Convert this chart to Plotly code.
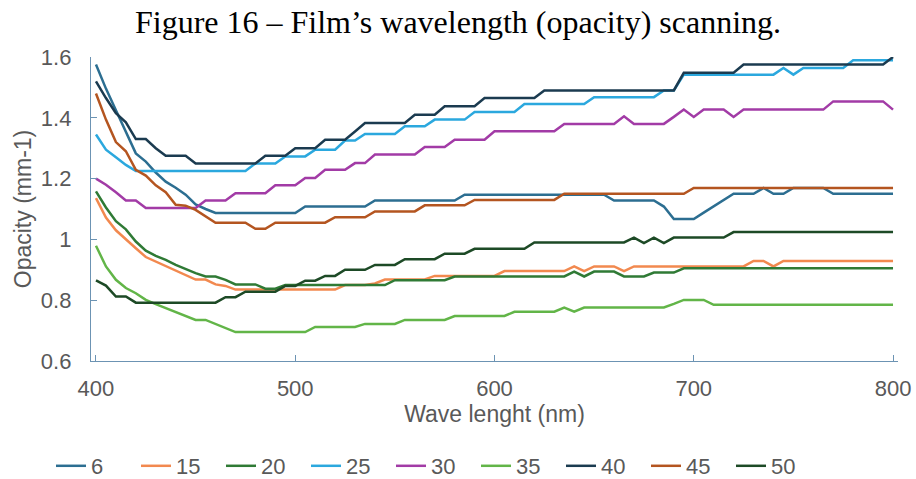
import plotly.graph_objects as go

wavelength = list(range(400, 805, 5))

s6 = [1.575, 1.496, 1.425, 1.354, 1.283, 1.256, 1.22, 1.19, 1.17, 1.147,
      1.115, 1.10, 1.087, 1.087, 1.087, 1.087, 1.087, 1.087, 1.087, 1.087,
      1.087, 1.108, 1.108, 1.108, 1.108, 1.108, 1.108, 1.108, 1.128, 1.128,
      1.128, 1.128, 1.128, 1.128, 1.128, 1.128, 1.128, 1.147, 1.147, 1.147,
      1.147, 1.147, 1.147, 1.147, 1.147, 1.147, 1.147, 1.147, 1.147, 1.147,
      1.147, 1.147, 1.128, 1.128, 1.128, 1.128, 1.128, 1.108, 1.067, 1.067,
      1.067, 1.088, 1.108, 1.128, 1.150, 1.150, 1.150, 1.169, 1.150, 1.150,
      1.169, 1.169, 1.169, 1.169, 1.150, 1.150, 1.150, 1.150, 1.150, 1.150,
      1.150]

s15 = [1.136, 1.072, 1.03, 0.999, 0.971, 0.942, 0.927, 0.913, 0.898, 0.883,
       0.868, 0.868, 0.852, 0.847, 0.835, 0.835, 0.835, 0.835, 0.835, 0.835,
       0.835, 0.835, 0.835, 0.835, 0.835, 0.85, 0.85, 0.85, 0.855, 0.868,
       0.868, 0.868, 0.868, 0.868, 0.88, 0.88, 0.88, 0.88, 0.88, 0.88,
       0.88, 0.896, 0.896, 0.896, 0.896, 0.896, 0.896, 0.896, 0.911, 0.896,
       0.911, 0.911, 0.911, 0.896, 0.911, 0.911, 0.911, 0.911, 0.911, 0.911,
       0.911, 0.911, 0.911, 0.911, 0.911, 0.911, 0.929, 0.929, 0.911, 0.929,
       0.929, 0.929, 0.929, 0.929, 0.929, 0.929, 0.929, 0.929, 0.929, 0.929,
       0.929]

s20 = [1.158, 1.105, 1.06, 1.033, 0.993, 0.963, 0.946, 0.933, 0.916, 0.902,
       0.889, 0.878, 0.878, 0.867, 0.852, 0.852, 0.852, 0.838, 0.838, 0.85,
       0.85, 0.85, 0.85, 0.85, 0.85, 0.85, 0.85, 0.85, 0.85, 0.85,
       0.866, 0.866, 0.866, 0.866, 0.866, 0.866, 0.878, 0.878, 0.878, 0.878,
       0.878, 0.878, 0.878, 0.878, 0.878, 0.878, 0.878, 0.878, 0.894, 0.878,
       0.894, 0.894, 0.894, 0.878, 0.878, 0.878, 0.891, 0.891, 0.891, 0.905,
       0.905, 0.905, 0.905, 0.905, 0.905, 0.905, 0.905, 0.905, 0.905, 0.905,
       0.905, 0.905, 0.905, 0.905, 0.905, 0.905, 0.905, 0.905, 0.905, 0.905,
       0.905]

s25 = [1.345, 1.295, 1.27, 1.245, 1.225, 1.225, 1.225, 1.225, 1.225, 1.225,
       1.225, 1.225, 1.225, 1.225, 1.225, 1.225, 1.25, 1.25, 1.25, 1.273,
       1.273, 1.273, 1.295, 1.295, 1.295, 1.325, 1.325, 1.347, 1.347, 1.347,
       1.347, 1.372, 1.372, 1.372, 1.394, 1.394, 1.394, 1.394, 1.419, 1.419,
       1.419, 1.419, 1.419, 1.445, 1.445, 1.445, 1.445, 1.445, 1.445, 1.445,
       1.468, 1.468, 1.468, 1.468, 1.468, 1.468, 1.468, 1.49, 1.49, 1.542,
       1.542, 1.542, 1.542, 1.542, 1.542, 1.542, 1.542, 1.542, 1.542, 1.564,
       1.542, 1.564, 1.564, 1.564, 1.564, 1.564, 1.589, 1.589, 1.589, 1.589,
       1.589]

s30 = [1.20, 1.18, 1.155, 1.128, 1.128, 1.103, 1.103, 1.103, 1.103, 1.103,
       1.103, 1.128, 1.128, 1.128, 1.152, 1.152, 1.152, 1.152, 1.178, 1.178,
       1.178, 1.202, 1.202, 1.229, 1.229, 1.229, 1.251, 1.251, 1.279, 1.279,
       1.279, 1.279, 1.279, 1.304, 1.304, 1.304, 1.328, 1.328, 1.328, 1.328,
       1.356, 1.356, 1.356, 1.356, 1.356, 1.356, 1.356, 1.38, 1.38, 1.38,
       1.38, 1.38, 1.38, 1.405, 1.38, 1.38, 1.38, 1.38, 1.403, 1.427,
       1.403, 1.427, 1.427, 1.427, 1.403, 1.427, 1.427, 1.427, 1.427, 1.427,
       1.427, 1.427, 1.427, 1.427, 1.454, 1.454, 1.454, 1.454, 1.454, 1.454,
       1.427]

s35 = [0.979, 0.911, 0.867, 0.84, 0.823, 0.801, 0.787, 0.774, 0.76, 0.748,
       0.735, 0.735, 0.721, 0.708, 0.695, 0.695, 0.695, 0.695, 0.695, 0.695,
       0.695, 0.695, 0.712, 0.712, 0.712, 0.712, 0.712, 0.722, 0.722, 0.722,
       0.722, 0.735, 0.735, 0.735, 0.735, 0.735, 0.748, 0.748, 0.748, 0.748,
       0.748, 0.748, 0.762, 0.762, 0.762, 0.762, 0.762, 0.776, 0.762, 0.776,
       0.776, 0.776, 0.776, 0.776, 0.776, 0.776, 0.776, 0.776, 0.788, 0.801,
       0.801, 0.801, 0.785, 0.785, 0.785, 0.785, 0.785, 0.785, 0.785, 0.785,
       0.785, 0.785, 0.785, 0.785, 0.785, 0.785, 0.785, 0.785, 0.785, 0.785,
       0.785]

s40 = [1.52, 1.465, 1.415, 1.385, 1.33, 1.33, 1.30, 1.275, 1.275, 1.275,
       1.25, 1.25, 1.25, 1.25, 1.25, 1.25, 1.25, 1.275, 1.275, 1.275,
       1.30, 1.30, 1.30, 1.328, 1.328, 1.328, 1.355, 1.383, 1.383, 1.383,
       1.383, 1.383, 1.41, 1.41, 1.41, 1.438, 1.438, 1.438, 1.438, 1.465,
       1.465, 1.465, 1.465, 1.465, 1.465, 1.49, 1.49, 1.49, 1.49, 1.49,
       1.49, 1.49, 1.49, 1.49, 1.49, 1.49, 1.49, 1.49, 1.49, 1.548,
       1.548, 1.548, 1.548, 1.548, 1.548, 1.575, 1.575, 1.575, 1.575, 1.575,
       1.575, 1.575, 1.575, 1.575, 1.575, 1.575, 1.575, 1.575, 1.575, 1.575,
       1.60]

s45 = [1.48, 1.394, 1.32, 1.29, 1.229, 1.21, 1.178, 1.155, 1.114, 1.111,
       1.097, 1.075, 1.055, 1.055, 1.055, 1.055, 1.035, 1.035, 1.055, 1.055,
       1.055, 1.055, 1.055, 1.055, 1.073, 1.073, 1.073, 1.073, 1.092, 1.092,
       1.092, 1.092, 1.092, 1.112, 1.112, 1.112, 1.112, 1.112, 1.130, 1.130,
       1.130, 1.130, 1.130, 1.130, 1.130, 1.130, 1.130, 1.150, 1.150, 1.150,
       1.150, 1.150, 1.150, 1.150, 1.150, 1.150, 1.150, 1.150, 1.150, 1.150,
       1.169, 1.169, 1.169, 1.169, 1.169, 1.169, 1.169, 1.169, 1.169, 1.169,
       1.169, 1.169, 1.169, 1.169, 1.169, 1.169, 1.169, 1.169, 1.169, 1.169,
       1.169]

s50 = [0.865, 0.848, 0.812, 0.812, 0.792, 0.792, 0.792, 0.792, 0.792, 0.792,
       0.792, 0.792, 0.792, 0.81, 0.81, 0.828, 0.828, 0.828, 0.828, 0.847,
       0.847, 0.864, 0.864, 0.88, 0.88, 0.90, 0.90, 0.90, 0.916, 0.916,
       0.916, 0.935, 0.935, 0.935, 0.935, 0.953, 0.953, 0.953, 0.969, 0.969,
       0.969, 0.969, 0.969, 0.969, 0.99, 0.99, 0.99, 0.99, 0.99, 0.99,
       0.99, 0.99, 0.99, 0.99, 1.006, 0.988, 1.006, 0.988, 1.006, 1.006,
       1.006, 1.006, 1.006, 1.006, 1.024, 1.024, 1.024, 1.024, 1.024, 1.024,
       1.024, 1.024, 1.024, 1.024, 1.024, 1.024, 1.024, 1.024, 1.024, 1.024,
       1.024]

series_names = ["6", "15", "20", "25", "30", "35", "40", "45", "50"]
series_values = [s6, s15, s20, s25, s30, s35, s40, s45, s50]
series_colors = ["#2C6E91", "#F2894F", "#2F7A35", "#2BA8DE", "#A23BA6",
                 "#62B548", "#1B3B50", "#B45520", "#1D4A26"]

x_ticks = [400, 500, 600, 700, 800]
y_ticks = [0.6, 0.8, 1.0, 1.2, 1.4, 1.6]
y_tick_text = ["0.6", "0.8", "1", "1.2", "1.4", "1.6"]

fig = go.Figure()
for name, vals, col in zip(series_names, series_values, series_colors):
    fig.add_trace(go.Scatter(x=wavelength, y=vals, name=name, mode="lines",
                             line=dict(color=col, width=2.5)))

axis_col = "#6C93B3"
sans = "Liberation Sans, Arial, sans-serif"
tick_font = dict(family=sans, size=22, color="#595959")
title_font = dict(family=sans, size=23, color="#595959")

fig.update_layout(
    width=916, height=479,
    paper_bgcolor="white", plot_bgcolor="white",
    margin=dict(l=91, r=18, t=57, b=118, autoexpand=False),
    title=dict(text="Figure 16 \u2013 Film\u2019s wavelength (opacity) scanning.",
               font=dict(family="Liberation Serif, Times New Roman, serif", size=32, color="black"),
               x=0.5, xref="container", xanchor="center",
               y=1 - 22 / 479, yref="container", yanchor="middle"),
    showlegend=True,
    legend=dict(orientation="h", x=51 / 916, xref="container", xanchor="left",
                y=(479 - 466) / 479, yref="container", yanchor="middle",
                font=dict(family=sans, size=22, color="#595959"),
                entrywidth=40, entrywidthmode="pixels", traceorder="normal",
                bgcolor="rgba(0,0,0,0)"),
)

fig.update_xaxes(range=[397.5, 802.5], tickvals=x_ticks, ticktext=[str(v) for v in x_ticks],
                 showgrid=False, zeroline=False, showline=True, linecolor=axis_col, linewidth=1.3,
                 ticks="inside", ticklen=6, tickcolor=axis_col, tickwidth=1.3,
                 tickfont=tick_font, ticklabelstandoff=7,
                 title=dict(text="Wave lenght (nm)", standoff=6, font=title_font))
fig.update_yaxes(range=[0.6, 1.6], tickvals=y_ticks, ticktext=y_tick_text,
                 showgrid=False, zeroline=False, showline=True, linecolor=axis_col, linewidth=1.3,
                 ticks="inside", ticklen=6, tickcolor=axis_col, tickwidth=1.3,
                 tickfont=tick_font, ticklabelstandoff=14,
                 title=dict(text="Opacity (mm-1)", standoff=2, font=title_font))

fig.write_html("out.html", config={"displayModeBar": False},
               post_script="document.body.style.margin='0';document.body.style.padding='0';")
